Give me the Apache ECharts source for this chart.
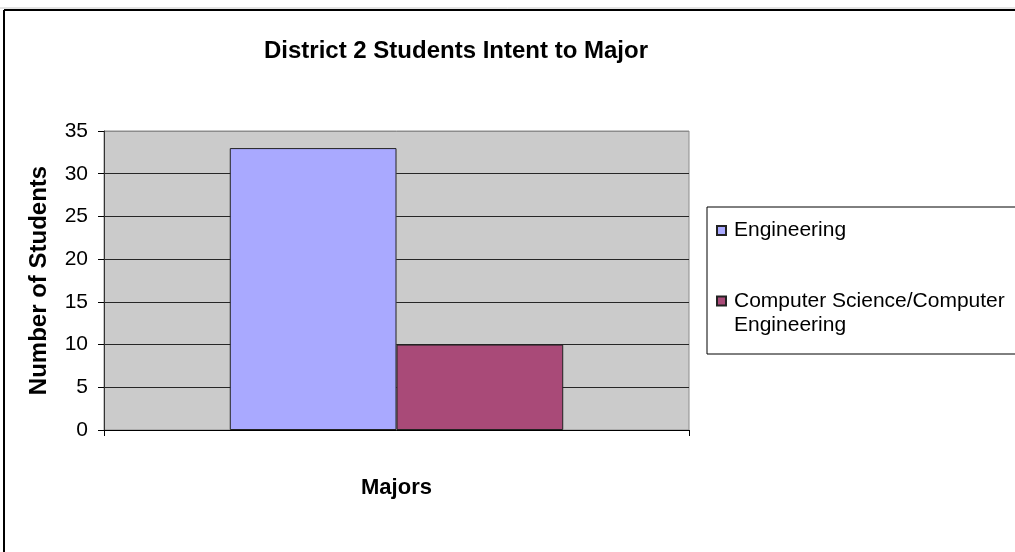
<!DOCTYPE html>
<html>
<head>
<meta charset="utf-8">
<title>District 2 Students Intent to Major</title>
<script src="https://cdn.jsdelivr.net/npm/echarts@6/dist/echarts.min.js"></script>
<style>
  html, body { margin: 0; padding: 0; background: #fff; }
  #main { width: 1015px; height: 552px; }
</style>
</head>
<body>
<div id="main"></div>
<script>
// data
const categories = [''];
const seriesNames = ['Engineering', 'Computer Science/Computer\nEngineering'];
const engineeringValues = [33];
const csValues = [10];
const seriesColors = ['#A9A9FF', '#A94A78'];
const yTicks = [0, 5, 10, 15, 20, 25, 30, 35];

// square icons sitting at the first text line of each legend entry
// (the zero-length moves only stretch the icon box, they draw nothing)
const iconSingle = 'path://M0,0L0,0M12,0L12,0M0,12L9,12L9,21L0,21ZM0,33L0,33';
const iconDouble = 'path://M0,0L9,0L9,9L0,9ZM12,0L12,0M0,33L0,33';

function renderChart() {
    const chart = echarts.init(document.getElementById('main'));
    const font = 'Liberation Sans, Arial, sans-serif';

    // split line colours: dark inside, grey at the top edge
    const splitColors = yTicks.map((v, i) => i === yTicks.length - 1 ? '#8c8c8c' : '#262626');

    const option = {
        backgroundColor: '#fff',
        animation: false,
        title: {
            text: 'District 2 Students Intent to Major',
            left: 451,
            top: 34,
            textAlign: 'center',
            textStyle: { fontFamily: font, fontSize: 24, fontWeight: 'bold', color: '#000' }
        },
        legend: {
            orient: 'vertical',
            left: 707,
            top: 207,
            padding: [6, 40, 17, 9],
            itemGap: 41,
            itemWidth: 12,
            itemHeight: 33,
            borderColor: '#000',
            borderWidth: 1,
            textStyle: { fontFamily: font, fontSize: 21, lineHeight: 24, color: '#000' },
            data: [
                { name: seriesNames[0], icon: iconSingle },
                { name: seriesNames[1], icon: iconDouble }
            ]
        },
        grid: {
            left: 104,
            right: 326,
            top: 131,
            bottom: 122,
            show: true,
            backgroundColor: '#CBCBCB',
            borderColor: '#8c8c8c',
            borderWidth: 1
        },
        xAxis: {
            type: 'category',
            data: categories,
            name: 'Majors',
            nameLocation: 'middle',
            nameGap: 47,
            nameTextStyle: { fontFamily: font, fontSize: 22, fontWeight: 'bold', color: '#000' },
            axisLine: { lineStyle: { color: '#000', width: 1 } },
            axisTick: { show: true, length: 6, lineStyle: { color: '#000' } },
            axisLabel: { show: false }
        },
        yAxis: {
            type: 'value',
            min: 0,
            max: 35,
            interval: 5,
            name: 'Number of Students',
            nameLocation: 'middle',
            nameGap: 53,
            nameTextStyle: { fontFamily: font, fontSize: 24, fontWeight: 'bold', color: '#000' },
            axisLine: { show: true, lineStyle: { color: '#333', width: 1 } },
            axisTick: { show: true, length: 6, lineStyle: { color: '#000' } },
            axisLabel: { fontFamily: font, fontSize: 21, color: '#000', margin: 16 },
            splitLine: { show: true, lineStyle: { color: splitColors, width: 1 } }
        },
        series: [
            {
                name: seriesNames[0],
                type: 'bar',
                data: engineeringValues,
                barGap: '0%',
                barCategoryGap: '43%',
                itemStyle: { color: seriesColors[0], borderColor: '#222', borderWidth: 1 }
            },
            {
                name: seriesNames[1],
                type: 'bar',
                data: csValues,
                barGap: '0%',
                barCategoryGap: '43%',
                itemStyle: { color: seriesColors[1], borderColor: '#222', borderWidth: 1 }
            }
        ],
        graphic: [
            { type: 'line', shape: { x1: 0, y1: 8, x2: 1015, y2: 8 }, style: { stroke: '#c8c8c8', lineWidth: 1 } },
            { type: 'line', shape: { x1: 4, y1: 10, x2: 1015, y2: 10 }, style: { stroke: '#000', lineWidth: 2 } },
            { type: 'line', shape: { x1: 4, y1: 10, x2: 4, y2: 552 }, style: { stroke: '#000', lineWidth: 2 } }
        ]
    };

    chart.setOption(option);
}

renderChart();
</script>
</body>
</html>
